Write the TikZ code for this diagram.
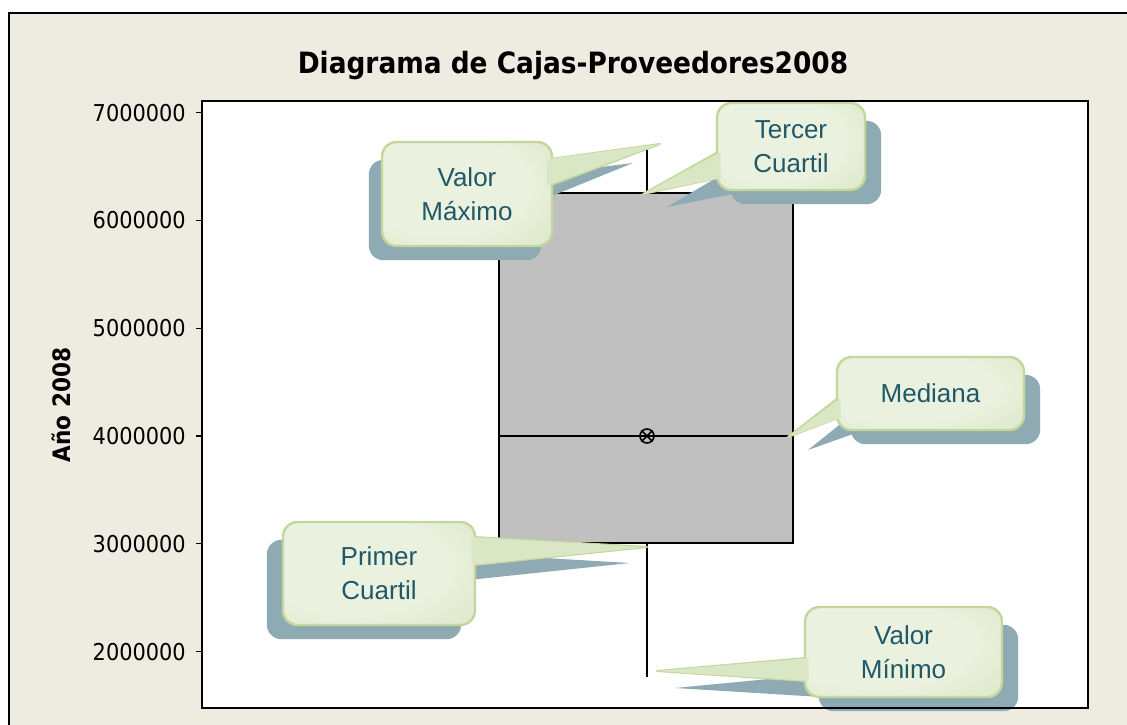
\documentclass[tikz,border=0pt]{standalone}
\usepackage{fontspec}
\setmainfont{Liberation Sans}
\newfontfamily\axisfont{DejaVu Sans}[FakeStretch=0.9]
\usetikzlibrary{calc}

\definecolor{panelbg}{HTML}{EEEBE1}
\definecolor{boxgray}{HTML}{C0C0C0}
\definecolor{bubbleshadow}{HTML}{8EABB3}
\definecolor{bubbleedge}{HTML}{C3D69B}
\definecolor{bubblelight}{HTML}{EBF1DF}
\definecolor{bubblemid}{HTML}{DAE6C3}
\definecolor{bubbledark}{HTML}{C6D99C}
\definecolor{bubbletip}{HTML}{DAE7C4}
\definecolor{bubbletext}{HTML}{205867}

\pgfdeclareradialshading{bubbleshading}{\pgfpoint{-10bp}{6bp}}{%
  color(0bp)=(bubblelight); color(24bp)=(bubblelight);
  color(44bp)=(bubblemid); color(60bp)=(bubbledark); color(80bp)=(bubbledark)}

\pgfdeclarelayer{plot}
\pgfdeclarelayer{shade}
\pgfdeclarelayer{front}
\pgfsetlayers{plot,shade,main,front}

% shadow, pointer and pointer cover of one callout
% #1 node, #2 shadow shift, #3 #4 pointer base, #5 tip, #6 shadow tip
\newcommand{\bubbleparts}[6]{%
  \coordinate (#1a) at #3;
  \coordinate (#1b) at #4;
  \begin{pgfonlayer}{shade}
    \fill[bubbleshadow, rounded corners=11pt]
      ($(#1.south west)+(#2,13)$) rectangle ($(#1.north east)+(#2,19)$);
    \fill[bubbleshadow] ($(#1a)+(#2,16)$) -- (#6) -- ($(#1b)+(#2,16)$) -- cycle;
    \filldraw[tipstyle] (#1a) -- (#5) -- (#1b) -- cycle;
  \end{pgfonlayer}
  \begin{pgfonlayer}{front}
    \fill[bubbletip] ($(#1a)!2pt!(#1a -| #1.center)$) -- (#5)
      -- ($(#1b)!2pt!(#1b -| #1.center)$) -- cycle;
  \end{pgfonlayer}}

\tikzset{
  bubble/.style={draw=bubbleedge, line width=1.8pt, rounded corners=11pt,
    shade, shading=bubbleshading,
    text=bubbletext, align=center, inner sep=0pt,
    font=\fontsize{19.5}{25.5}\selectfont},
  tipstyle/.style={fill=bubbletip, draw=bubbleedge, line width=1.5pt, line join=round},
  ticklabel/.style={anchor=east, inner sep=0pt, font=\axisfont\fontsize{17.4}{20}\selectfont},
  meanmark/.style={circle, draw, line width=1.2pt, minimum size=10.5pt, inner sep=0pt}
}

\begin{document}
\begin{tikzpicture}[x=0.75pt, y=-0.75pt]
\useasboundingbox (0,0) rectangle (1127,724);

\begin{pgfonlayer}{plot}
  \fill[white] (0,0) rectangle (1127,724);
  \fill[panelbg] (9,13) rectangle (1140,740);
  \draw[line width=1.5pt] (9,740) -- (9,13) -- (1140,13);
  \fill[white] (202,101) rectangle (1088,708);

  \node[font=\axisfont\bfseries\fontsize{22}{26}\selectfont] (title) at (573,66)
    {Diagrama de Cajas-Proveedores2008};
  \node[rotate=90, font=\axisfont\bfseries\fontsize{18}{22}\selectfont] (ylabel) at (61,405)
    {Año 2008};

  \foreach \v in {2,...,7} {
    \pgfmathsetmacro\ty{436-(\v-4)*107.8}
    \draw[line width=1pt] (196,\ty) -- (202,\ty);
    \node[ticklabel] (tick\v) at (186,\ty) {\v000000};
  }

  % box and whiskers
  \draw[line width=1.5pt] (647,149) -- (647,193);
  \draw[line width=1.5pt] (647,543) -- (647,677);
  \draw[fill=boxgray, line width=1.2pt] (499,193) rectangle (793,543);
  \draw[line width=1.2pt] (499,436) -- (793,436);
  \node[meanmark] (mean) at (647,436) {};
  \draw[line width=1.2pt] (mean.north east) -- (mean.south west);
  \draw[line width=1.2pt] (mean.north west) -- (mean.south east);
\end{pgfonlayer}

% callouts
\coordinate (vmaxtip) at (660,144);
\coordinate (vmaxshtip) at (633,163);
\coordinate (q3tip) at (643,194);
\coordinate (q3shtip) at (667,207);
\coordinate (medtip) at (788,437);
\coordinate (medshtip) at (808,450);
\coordinate (q1tip) at (647,547);
\coordinate (q1shtip) at (630,563);
\coordinate (vmintip) at (657,671);
\coordinate (vminshtip) at (675,688);

\node[bubble, minimum width=127.5pt, minimum height=78pt] (vmax) at (467,194) {Valor\\Máximo};
\bubbleparts{vmax}{-12}{(550,159)}{(549,186)}{vmaxtip}{vmaxshtip}

\node[bubble, minimum width=111pt, minimum height=65.25pt] (q3) at (791,146.5) {Tercer\\Cuartil};
\bubbleparts{q3}{15}{(718,152)}{(718,178)}{q3tip}{q3shtip}

\node[bubble, minimum width=140.25pt, minimum height=54.75pt] (med) at (930.5,393.5) {Mediana};
\bubbleparts{med}{15}{(838,398)}{(838,418)}{medtip}{medshtip}

\node[bubble, minimum width=144pt, minimum height=77.25pt] (q1) at (379,573.5) {Primer\\Cuartil};
\bubbleparts{q1}{-15}{(474,537)}{(474,565)}{q1tip}{q1shtip}

\node[bubble, minimum width=147.75pt, minimum height=67.5pt] (vmin) at (903.5,652) {Valor\\Mínimo};
\bubbleparts{vmin}{15}{(806,658)}{(806,681)}{vmintip}{vminshtip}

\begin{pgfonlayer}{front}
  \draw[line width=1.2pt] (202,101) rectangle (1088,708);
\end{pgfonlayer}
\end{tikzpicture}
\end{document}
